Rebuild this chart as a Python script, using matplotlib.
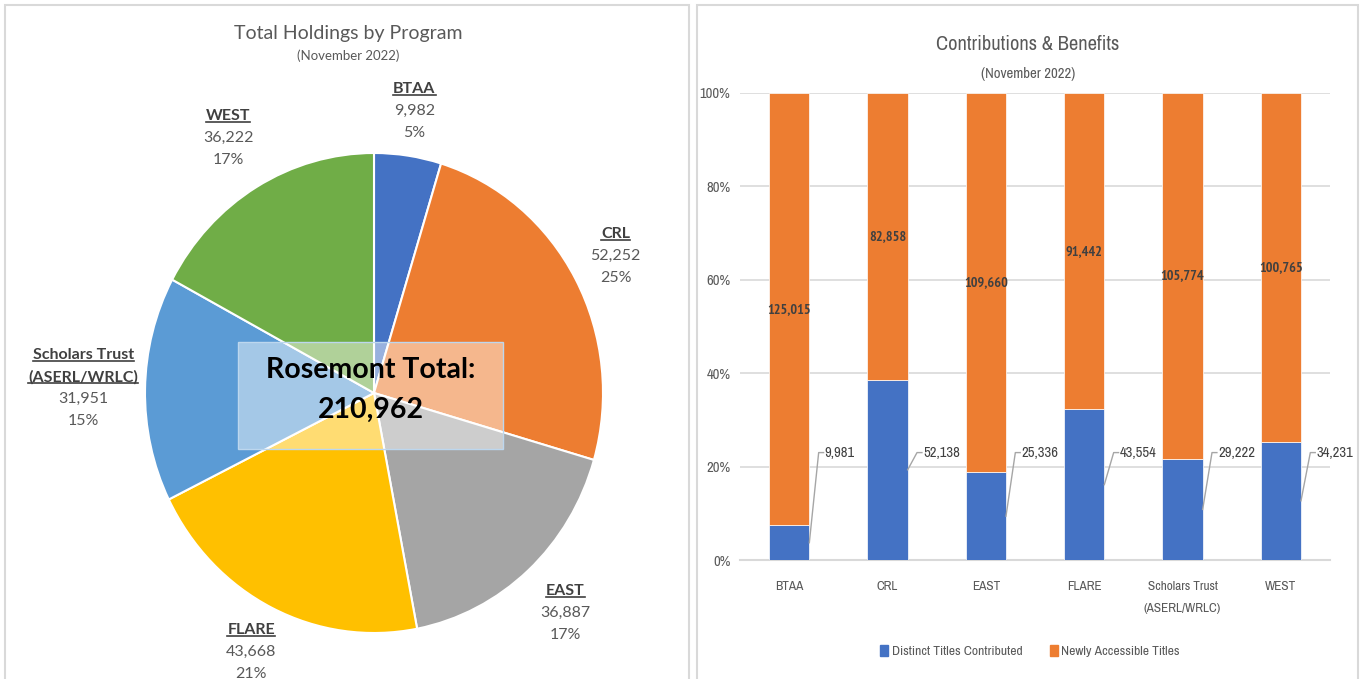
import numpy as np
import matplotlib
matplotlib.use("Agg")
import matplotlib.pyplot as plt
from matplotlib import font_manager as fm
from matplotlib.patches import Rectangle, Patch
from matplotlib.lines import Line2D

# pie data
programs = ["BTAA", "CRL", "EAST", "FLARE", "Scholars Trust\n(ASERL/WRLC)", "WEST"]
holdings = [9982, 52252, 36887, 43668, 31951, 36222]
pie_colors = ["#4472C4", "#ED7D31", "#A5A5A5", "#FFC000", "#5B9BD5", "#70AD47"]

# bar data
bar_cats = ["BTAA", "CRL", "EAST", "FLARE", "Scholars Trust\n(ASERL/WRLC)", "WEST"]
distinct = [9981, 52138, 25336, 43554, 29222, 34231]
newly = [125015, 82858, 109660, 91442, 105774, 100765]

BLUE = "#4472C4"
ORANGE = "#ED7D31"
GRID = "#D9D9D9"
TXT = "#595959"
DARK = "#404040"

W, H = 1360, 679
fig = plt.figure(figsize=(W / 100, H / 100), dpi=100)
plt.rcParams['font.family'] = ['Lato', 'DejaVu Sans']


def find_narrow(bold=False):
    # a condensed face to mimic the squeezed Calibri Light on the right panel
    want_w = 700 if bold else 400
    cands = []
    for f in fm.fontManager.ttflist:
        nm = f.name.lower()
        path = f.fname.lower()
        if f.style != "normal":
            continue
        is_narrow = "narrow" in nm or "narrow" in path
        is_cond = ("condensed" in nm or "condensed" in path
                   or str(f.stretch) in ("condensed", "semi-condensed"))
        if not (is_narrow or is_cond):
            continue
        w = f.weight if isinstance(f.weight, int) else (700 if "bold" in str(f.weight) else 400)
        cands.append((abs(w - want_w), not is_narrow, "dejavu" in path, f.fname))
    if cands:
        cands.sort()
        return fm.FontProperties(fname=cands[0][3]), 1.0
    return fm.FontProperties(family=['Lato', 'DejaVu Sans'],
                             weight="bold" if bold else "normal"), 0.85


nfont, nscale = find_narrow()
nbold, bscale = find_narrow(bold=True)


def nf(size, bold=False):
    p = (nbold if bold else nfont).copy()
    p.set_size(size * (bscale if bold else nscale))
    return p


def fx(x):
    return x / W


def fy(y):
    return 1 - y / H


# panel frames
fig.add_artist(Rectangle((fx(5), fy(690)), fx(689) - fx(5), fy(5) - fy(690),
                         transform=fig.transFigure, fill=False, ec=GRID, lw=1.5))
fig.add_artist(Rectangle((fx(697), fy(690)), fx(1358) - fx(697), fy(5) - fy(690),
                         transform=fig.transFigure, fill=False, ec=GRID, lw=1.5))

# ---------------- pie ----------------
cx, cy, rx, ry = 374, 393, 229, 240
ax1 = fig.add_axes([fx(cx - rx), fy(cy + ry), 2 * rx / W, 2 * ry / H])
ax1.pie(holdings, colors=pie_colors, startangle=90, counterclock=False,
        wedgeprops=dict(edgecolor="white", linewidth=1.5))
ax1.set_aspect("auto")
ax1.set_xlim(-1, 1)
ax1.set_ylim(-1, 1)
ax1.axis("off")

fig.text(fx(348), fy(33), "Total Holdings by Program", ha="center", va="center",
         fontsize=14, color=TXT)
fig.text(fx(348), fy(56), "(November 2022)", ha="center", va="center",
         fontsize=9.5, color=TXT)

total = sum(holdings)
label_r = [1.19, 1.2, 1.24, 1.205, 1.27, 1.24]
underlined = []
cum = 0
for name, v, r in zip(programs, holdings, label_r):
    mid = (cum + v / 2) / total
    cum += v
    ang = np.deg2rad(90 - 360 * mid)
    px = cx + r * rx * np.cos(ang)
    py = cy - r * ry * np.sin(ang)
    lines = name.split("\n")
    pct = f"{round(v / total * 100)}%"
    allines = lines + [f"{v:,}", pct]
    n = len(allines)
    for i, s in enumerate(allines):
        yy = py + (i - (n - 1) / 2) * 22
        if i < len(lines):
            t = fig.text(fx(px), fy(yy), s, ha="center", va="center", fontsize=11.5,
                         color=DARK, fontweight="bold")
            underlined.append(t)
        else:
            fig.text(fx(px), fy(yy), s, ha="center", va="center", fontsize=11.5,
                     color=TXT)

# center total box
fig.add_artist(Rectangle((fx(238), fy(449)), fx(503) - fx(238), fy(342) - fy(449),
                         transform=fig.transFigure, fc="white", alpha=0.45,
                         ec="none", zorder=5))
fig.add_artist(Rectangle((fx(238), fy(449)), fx(503) - fx(238), fy(342) - fy(449),
                         transform=fig.transFigure, fill=False, ec="#BDD7EE",
                         lw=1, zorder=6))
fig.text(fx(371), fy(370), "Rosemont Total:", ha="center", va="center",
         fontsize=20.5, fontweight="bold", color="black", zorder=7)
fig.text(fx(371), fy(410), f"{total:,}", ha="center", va="center",
         fontsize=20.5, fontweight="bold", color="black", zorder=7)

# ---------------- stacked bar ----------------
ax2 = fig.add_axes([fx(740), fy(560), (1330 - 740) / W, (560 - 93) / H])
x = np.arange(len(bar_cats))
tot = np.array(distinct) + np.array(newly)
pb = np.array(distinct) / tot * 100
po = np.array(newly) / tot * 100
bw = 0.41
ax2.bar(x, pb, bw, color=BLUE, edgecolor="white", linewidth=0.5, zorder=3)
ax2.bar(x, po, bw, bottom=pb, color=ORANGE, edgecolor="white", linewidth=0.5, zorder=3)
ax2.set_xlim(-0.5, len(x) - 0.5)
ax2.set_ylim(0, 100)
ax2.set_yticks(np.arange(0, 101, 20))
ax2.set_yticklabels([f"{t}%" for t in range(0, 101, 20)], fontproperties=nf(10.5))
ax2.set_xticks(x)
ax2.set_xticklabels(bar_cats, fontproperties=nf(9.5), linespacing=2.2)
ax2.tick_params(axis="y", length=0, pad=7, labelcolor=TXT)
ax2.tick_params(axis="x", length=0, pad=15, labelcolor=TXT)
ax2.grid(axis="y", color=GRID, lw=1.2, zorder=0)
for sp in ["top", "right", "left"]:
    ax2.spines[sp].set_visible(False)
ax2.spines["bottom"].set_color(GRID)
ax2.spines["bottom"].set_linewidth(1.5)

for i in range(len(x)):
    ax2.text(x[i], pb[i] + po[i] / 2, f"{newly[i]:,}", ha="center", va="center",
             fontproperties=nf(10.2, bold=True), color=DARK, zorder=5)
    ly = 23
    ax2.plot([x[i] + bw / 2, x[i] + 0.30, x[i] + 0.35], [pb[i] / 2, ly, ly],
             color="#A6A6A6", lw=1, zorder=4, clip_on=False)
    ax2.text(x[i] + 0.36, ly, f"{distinct[i]:,}", ha="left", va="center",
             fontproperties=nf(10.5), color=DARK, zorder=5)

fig.text(fx(1028), fy(44), "Contributions & Benefits", ha="center", va="center",
         fontproperties=nf(14.7), color=TXT)
fig.text(fx(1028), fy(74), "(November 2022)", ha="center", va="center",
         fontproperties=nf(10.6), color=TXT)

handles = [Patch(color=BLUE), Patch(color=ORANGE)]
leg = fig.legend(handles, ["Distinct Titles Contributed", "Newly Accessible Titles"],
                 loc="center", bbox_to_anchor=(fx(1030), fy(651)), ncol=2,
                 frameon=False, handlelength=0.6, handleheight=0.9,
                 handletextpad=0.25, columnspacing=2.0, prop=nf(9.8))
for t in leg.get_texts():
    t.set_color(TXT)

# underline pie label names
fig.canvas.draw()
rend = fig.canvas.get_renderer()
for t in underlined:
    bb = t.get_window_extent(rend)
    yline = bb.y0 + 1
    fig.add_artist(Line2D([bb.x0 / W, bb.x1 / W], [yline / H, yline / H],
                          transform=fig.transFigure, color=DARK, lw=1.2))

fig.savefig("out.png", dpi=100)
